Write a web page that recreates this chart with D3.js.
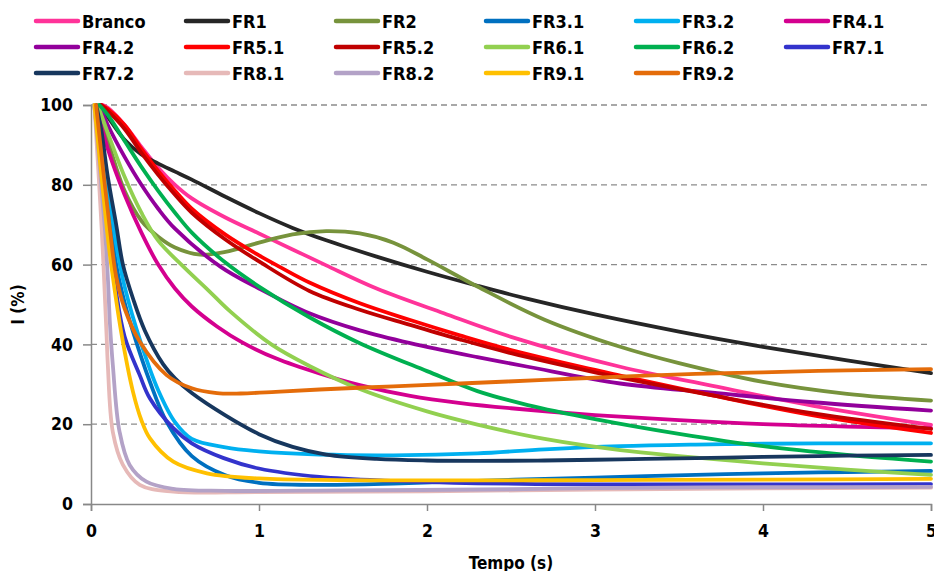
<!DOCTYPE html>
<html>
<head>
<meta charset="utf-8">
<script src="https://cdn.jsdelivr.net/npm/d3@7"></script>
<style>
  body { margin: 0; background: #fff; }
  svg text { font-family: "DejaVu Sans Condensed", "DejaVu Sans", sans-serif; font-weight: bold; font-stretch: condensed; fill: #000; }
</style>
</head>
<body>
<svg id="chart" width="934" height="571"></svg>
<script>
// series names, in legend order
const names = ["Branco", "FR1", "FR2", "FR3.1", "FR3.2", "FR4.1",
               "FR4.2", "FR5.1", "FR5.2", "FR6.1", "FR6.2", "FR7.1",
               "FR7.2", "FR8.1", "FR8.2", "FR9.1", "FR9.2"];

const colors = ["#ff3399", "#262626", "#77933c", "#0070c0", "#00b0f0", "#d4008f",
                "#92009b", "#ff0000", "#c00000", "#92d050", "#00b050", "#3333cc",
                "#17375e", "#e6b9b8", "#b3a2c7", "#ffc000", "#e46c0a"];

// [tempo (s), I (%)]
const branco = [[0.07,100],[0.1,99.3],[0.2,95],[0.3,89.5],[0.4,84.3],[0.5,80],[0.6,76.6],[0.8,71.8],[1.0,67.8],[1.2,63.8],[1.4,59.8],[1.7,54],[2.1,47.8],[2.5,41.9],[3.15,34.4],[3.7,29.6],[4.3,24.6],[5.0,19.8]];
const fr1 = [[0.05,100],[0.1,97],[0.2,91.3],[0.3,87.6],[0.4,85.3],[0.5,83.3],[0.6,81.3],[0.8,77],[1.0,72.9],[1.2,69.2],[1.4,66.1],[1.7,62],[2.0,58.2],[2.3,54.7],[2.6,51.4],[3.0,47.5],[3.5,43.2],[4.0,39.4],[4.5,36],[5.0,32.8]];
const fr2 = [[0.03,100],[0.1,91],[0.2,78.5],[0.3,71],[0.4,67],[0.5,64.3],[0.65,62.5],[0.8,63.2],[1.0,65.5],[1.2,67.6],[1.4,68.4],[1.6,67.8],[1.8,65.5],[2.0,61.3],[2.3,54.5],[2.7,46.2],[3.15,39.4],[3.5,35.3],[4.0,30.6],[4.5,27.6],[5.0,25.9]];
const fr31 = [[0.02,100],[0.06,90],[0.1,77],[0.15,60],[0.2,50.5],[0.25,43.2],[0.35,30.7],[0.45,20.6],[0.6,12],[0.8,7.2],[1.0,5.3],[1.36,4.8],[1.8,5.1],[2.3,5.8],[2.7,6.3],[3.15,6.8],[3.6,7.3],[4.0,7.7],[4.5,8.0],[5.0,8.3]];
const fr32 = [[0.02,100],[0.06,92],[0.1,80],[0.15,65],[0.2,54.5],[0.3,40],[0.4,28.5],[0.5,20.5],[0.6,16.3],[0.8,14.2],[1.0,13.2],[1.36,12.4],[1.8,12.2],[2.3,12.7],[2.7,13.7],[3.15,14.5],[3.6,14.9],[4.0,15.1],[4.5,15.2],[5.0,15.2]];
const fr41 = [[0.03,100],[0.1,89],[0.2,77.5],[0.3,68],[0.4,60],[0.5,54],[0.6,49.5],[0.75,44.5],[0.9,40.5],[1.1,36.5],[1.36,32.7],[1.6,29.8],[1.9,27.1],[2.2,25.3],[2.5,24],[3.0,22.3],[3.5,21],[4.0,20],[4.5,19.4],[5.0,19.0]];
const fr42 = [[0.05,100],[0.1,95],[0.2,87],[0.3,80],[0.4,74],[0.5,69],[0.77,59.5],[1.0,54],[1.3,47.8],[1.6,43.5],[1.9,40.3],[2.3,36.8],[2.6,34.4],[3.15,30.2],[3.7,27.9],[4.3,25.5],[5.0,23.4]];
const fr51 = [[0.06,100],[0.1,99],[0.2,95],[0.3,89],[0.4,83.5],[0.5,78.5],[0.6,74],[0.8,67.5],[1.0,62.3],[1.12,59.5],[1.3,55.5],[1.6,50.3],[1.9,46.1],[2.2,42.2],[2.5,38.6],[3.0,33.6],[3.15,32.2],[3.7,27.2],[4.3,22.2],[5.0,17.8]];
const fr52 = [[0.06,100],[0.1,98.5],[0.2,94],[0.3,88],[0.4,82.5],[0.5,77.5],[0.6,73],[0.8,66.3],[1.0,60.8],[1.3,53.4],[1.6,48.7],[1.9,44.9],[2.2,41.2],[2.5,37.8],[3.0,33],[3.15,31.7],[3.7,27.2],[4.3,22.7],[5.0,18.8]];
const fr61 = [[0.04,100],[0.1,93],[0.2,82],[0.3,73],[0.4,66],[0.55,59.5],[0.7,53.5],[0.83,48.2],[1.08,39.8],[1.3,34.6],[1.6,28.8],[2.0,23.2],[2.3,19.9],[2.7,16.3],[3.15,13.5],[3.5,12],[4.0,10.2],[4.5,8.6],[5.0,7.3]];
const fr62 = [[0.05,100],[0.1,97.5],[0.2,91],[0.3,84.5],[0.4,78.5],[0.5,73],[0.6,68],[0.8,60.5],[1.0,54.5],[1.3,46.8],[1.6,40.3],[2.0,33.3],[2.3,28.3],[2.6,24.8],[3.0,21.3],[3.5,17.6],[4.0,14.5],[4.5,12.3],[5.0,10.6]];
const fr71 = [[0.02,100],[0.05,88],[0.1,70],[0.15,53],[0.2,42],[0.29,32.3],[0.35,26.5],[0.49,19],[0.6,15.2],[0.79,11.5],[1.0,8.9],[1.36,6.8],[1.8,5.8],[2.3,5.2],[3.0,4.9],[3.5,4.9],[4.0,4.9],[5.0,5.0]];
const fr72 = [[0.03,100],[0.06,94],[0.1,82],[0.15,70],[0.19,60],[0.25,51.5],[0.32,43.5],[0.43,35],[0.5,31.5],[0.6,27.8],[0.8,22.2],[1.0,17.5],[1.2,14.3],[1.4,12.4],[1.7,11.3],[2.0,10.9],[2.3,10.8],[2.7,10.9],[3.15,11.2],[3.6,11.5],[4.0,11.8],[4.5,12.1],[5.0,12.3]];
const fr81 = [[0.02,100],[0.064,68.7],[0.093,42],[0.1,35],[0.13,18],[0.19,9.8],[0.29,4.8],[0.49,3.1],[1.0,3.0],[2.0,3.2],[3.0,3.6],[4.0,3.9],[5.0,4.1]];
const fr82 = [[0.02,100],[0.083,68.7],[0.1,57],[0.113,45],[0.13,34.8],[0.17,18.1],[0.23,9.8],[0.33,5.6],[0.49,3.8],[0.8,3.3],[1.5,3.4],[2.5,3.7],[3.0,4.0],[4.0,4.2],[5.0,4.3]];
const fr91 = [[0.02,100],[0.095,68.7],[0.12,60],[0.18,43],[0.25,28.1],[0.3,21],[0.35,16.5],[0.49,10.6],[0.69,7.7],[1.0,6.4],[1.5,6.0],[2.0,5.9],[3.0,6.0],[4.0,6.1],[5.0,6.3]];
const fr92 = [[0.03,100],[0.113,68.7],[0.15,57],[0.2,49],[0.29,40.7],[0.45,32.3],[0.6,29],[0.75,27.8],[0.89,27.7],[1.1,28.1],[1.36,28.7],[1.8,29.5],[2.2,30.2],[2.7,31.1],[3.15,31.9],[3.6,32.6],[4.0,33],[4.5,33.5],[5.0,33.8]];

const seriesData = [branco, fr1, fr2, fr31, fr32, fr41, fr42, fr51, fr52, fr61, fr62, fr71, fr72, fr81, fr82, fr91, fr92];

const xTicks = [0, 1, 2, 3, 4, 5];
const yTicks = [0, 20, 40, 60, 80, 100];

const svg = d3.select("#chart");
const margin = { top: 105, right: 3, bottom: 67, left: 91 };
const width = 934 - margin.left - margin.right;
const height = 571 - margin.top - margin.bottom;

const x = d3.scaleLinear().domain([0, 5]).range([0, width]);
const y = d3.scaleLinear().domain([0, 100]).range([height, 0]);

const g = svg.append("g").attr("transform", `translate(${margin.left},${margin.top})`);

// dashed grid
g.append("g")
  .selectAll("line")
  .data(yTicks.filter(d => d > 0))
  .enter().append("line")
  .attr("x1", 0).attr("x2", width)
  .attr("y1", d => y(d)).attr("y2", d => y(d))
  .attr("stroke", "#8c8c8c")
  .attr("stroke-width", 1.3)
  .attr("stroke-dasharray", "6,4");

// axes
const yAxis = g.append("g")
  .call(d3.axisLeft(y).tickValues(yTicks).tickFormat(d3.format("d")).tickSize(8).tickPadding(10));
const xAxis = g.append("g")
  .attr("transform", `translate(0,${height})`)
  .call(d3.axisBottom(x).tickValues(xTicks).tickFormat(d3.format("d")).tickSize(7).tickPadding(14));

[xAxis, yAxis].forEach(a => {
  a.select(".domain").attr("stroke", "#888").attr("stroke-width", 1.5);
  a.selectAll(".tick line").attr("stroke", "#888").attr("stroke-width", 1.5);
  a.selectAll(".tick text").style("font-size", "17.5px").attr("fill", "#000");
});

// curves
const line = d3.line()
  .x(d => x(d[0]))
  .y(d => y(d[1]))
  .curve(d3.curveCatmullRom.alpha(0.5));

g.append("g")
  .selectAll("path")
  .data(seriesData)
  .enter().append("path")
  .attr("d", line)
  .attr("fill", "none")
  .attr("stroke", (d, i) => colors[i])
  .attr("stroke-width", 3.8)
  .attr("stroke-linejoin", "round")
  .attr("stroke-linecap", "round");

// axis titles
svg.append("text")
  .attr("transform", `translate(24,${margin.top + height / 2}) rotate(-90)`)
  .attr("text-anchor", "middle")
  .style("font-size", "17px")
  .text("I (%)");

svg.append("text")
  .attr("x", margin.left + width / 2)
  .attr("y", 569)
  .attr("text-anchor", "middle")
  .style("font-size", "17px")
  .text("Tempo (s)");

// legend, 6 columns
const legend = svg.append("g")
  .selectAll("g")
  .data(names)
  .enter().append("g")
  .attr("transform", (d, i) => `translate(${36 + (i % 6) * 150},${21 + Math.floor(i / 6) * 26})`);

legend.append("line")
  .attr("x1", 0).attr("x2", 42)
  .attr("stroke", (d, i) => colors[i])
  .attr("stroke-width", 4.5)
  .attr("stroke-linecap", "round");

legend.append("text")
  .attr("x", 46)
  .attr("y", 6.5)
  .style("font-size", "18px")
  .text(d => d);
</script>
</body>
</html>
